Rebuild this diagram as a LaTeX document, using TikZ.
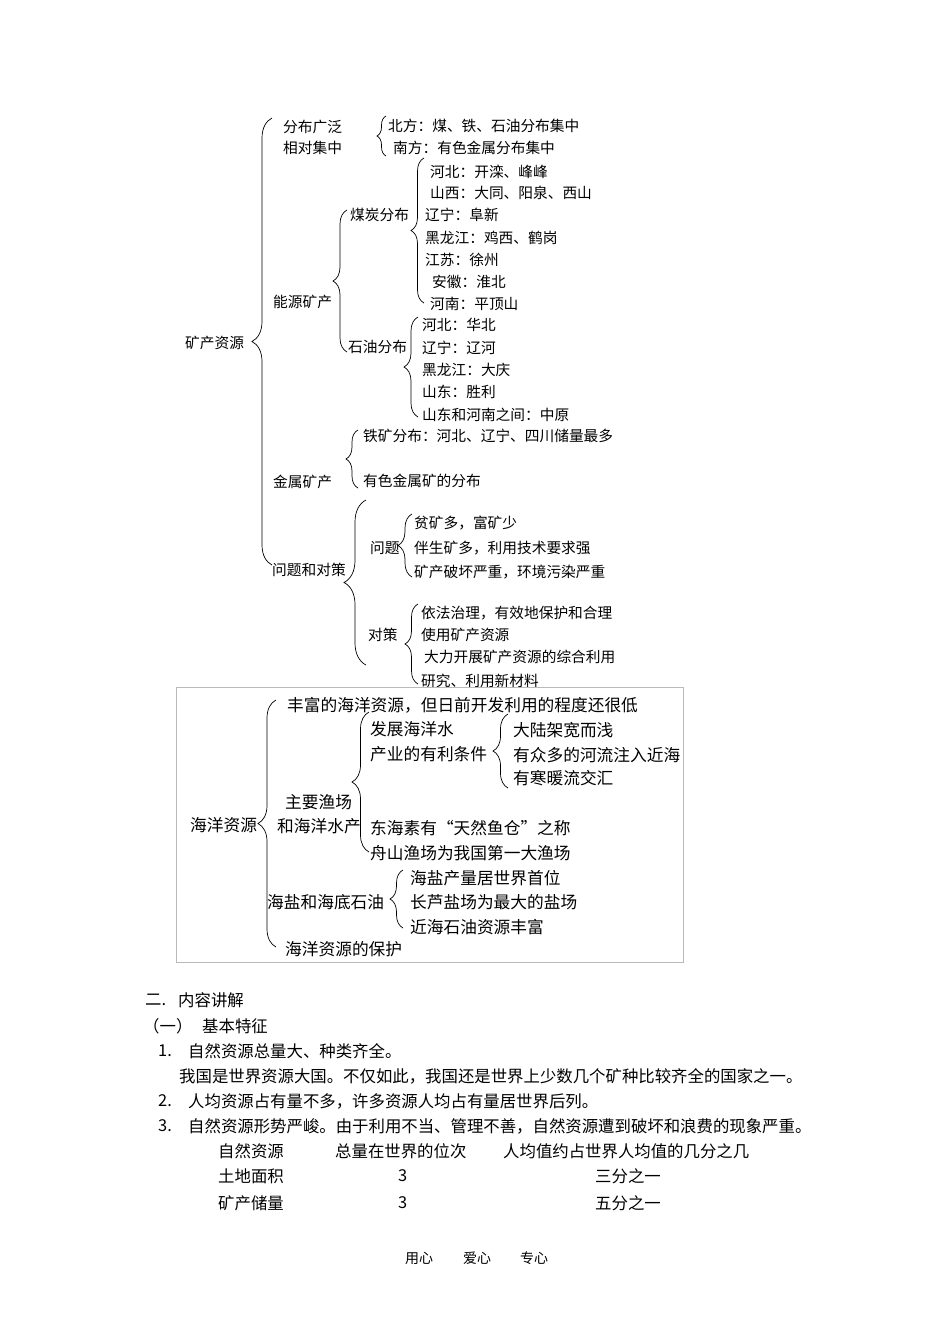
\documentclass[tikz,border=0pt]{standalone}
\usepackage{fontspec}
\setmainfont{Noto Sans CJK SC}
\usepackage{tikz}
\usetikzlibrary{decorations.pathreplacing}
\newcommand{\dsize}{\fontsize{14.7}{16}\selectfont}
\newcommand{\osize}{\fontsize{16.7}{18}\selectfont}
\newcommand{\psize}{\fontsize{16.4}{18}\selectfont}
\newcommand{\fsize}{\fontsize{14}{16}\selectfont}

\begin{document}
\begin{tikzpicture}[x=1pt, y=-1pt,
	dtxt/.style={anchor=west, inner sep=0pt, font=\dsize},
	otxt/.style={anchor=west, inner sep=0pt, font=\osize},
	ptxt/.style={anchor=west, inner sep=0pt, font=\psize},
	ftxt/.style={anchor=west, inner sep=0pt, font=\fsize},
	brc/.style={decorate, decoration={brace, amplitude=#1}, line width=0.7pt}]
			\useasboundingbox (0,0) rectangle (950,1344);
			
			% 矿产资源
			\node[dtxt] (kczy) at (185,343) {矿产资源};
			\node[dtxt] (fbgf) at (283,127) {分布广泛};
			\node[dtxt] (xdjz) at (283,148) {相对集中};
			\node[dtxt] (bf) at (388,126) {北方：煤、铁、石油分布集中};
			\node[dtxt] (nf) at (393,148) {南方：有色金属分布集中};
			\node[dtxt] (nykc) at (273,302) {能源矿产};
			\node[dtxt] (mtfb) at (350,215) {煤炭分布};
			\node[dtxt] (mt1) at (430,172) {河北：开滦、峰峰};
			\node[dtxt] (mt2) at (430,193) {山西：大同、阳泉、西山};
			\node[dtxt] (mt3) at (425,215) {辽宁：阜新};
			\node[dtxt] (mt4) at (425,238) {黑龙江：鸡西、鹤岗};
			\node[dtxt] (mt5) at (425,260) {江苏：徐州};
			\node[dtxt] (mt6) at (432,282) {安徽：淮北};
			\node[dtxt] (mt7) at (430,304) {河南：平顶山};
			\node[dtxt] (syfb) at (348,347) {石油分布};
			\node[dtxt] (sy1) at (422,325) {河北：华北};
			\node[dtxt] (sy2) at (422,348) {辽宁：辽河};
			\node[dtxt] (sy3) at (422,370) {黑龙江：大庆};
			\node[dtxt] (sy4) at (422,392) {山东：胜利};
			\node[dtxt] (sy5) at (422,415) {山东和河南之间：中原};
			\node[dtxt] (jskc) at (273,482) {金属矿产};
			\node[dtxt] (tk) at (363,436) {铁矿分布：河北、辽宁、四川储量最多};
			\node[dtxt] (ys) at (363,481) {有色金属矿的分布};
			\node[dtxt] (wtdc) at (272,570) {问题和对策};
			\node[dtxt] (wt) at (370,548) {问题};
			\node[dtxt] (wt1) at (414,523) {贫矿多，富矿少};
			\node[dtxt] (wt2) at (414,548) {伴生矿多，利用技术要求强};
			\node[dtxt] (wt3) at (414,572) {矿产破坏严重，环境污染严重};
			\node[dtxt] (dc) at (368,635) {对策};
			\node[dtxt] (dc1) at (421,613) {依法治理，有效地保护和合理};
			\node[dtxt] (dc2) at (421,635) {使用矿产资源};
			\node[dtxt] (dc3) at (424,657) {大力开展矿产资源的综合利用};
			\node[dtxt] (dc4) at (421,681) {研究、利用新材料};
			
			% 括号端点
			\coordinate (kz-t) at (272,118);   \coordinate (kz-b) at (272,565);
			\coordinate (fb-t) at (386,116);   \coordinate (fb-b) at (386,156);
			\coordinate (ny-t) at (347,210);   \coordinate (ny-b) at (347,352);
			\coordinate (mt-t) at (424,158);   \coordinate (mt-b) at (424,303);
			\coordinate (sy-t) at (418,317);   \coordinate (sy-b) at (418,417);
			\coordinate (js-t) at (358,430);   \coordinate (js-b) at (358,488);
			\coordinate (wd-t) at (366,500);   \coordinate (wd-b) at (366,665);
			\coordinate (wt-t) at (412,514);   \coordinate (wt-b) at (412,577);
			\coordinate (dc-t) at (418,604);   \coordinate (dc-b) at (418,684);
			
			\draw[brc=20] (kz-b) -- (kz-t);
			\draw[brc=9] (fb-b) -- (fb-t);
			\draw[brc=14] (ny-b) -- (ny-t);
			\draw[brc=13] (mt-b) -- (mt-t);
			\draw[brc=14] (sy-b) -- (sy-t);
			\draw[brc=12] (js-b) -- (js-t);
			\draw[brc=22] (wd-b) -- (wd-t);
			\draw[brc=14] (wt-b) -- (wt-t);
			\draw[brc=13] (dc-b) -- (dc-t);
			
			% 海洋资源（方框）
			\draw[gray!55, line width=0.6pt] (176,687) rectangle (683,962);
			\node[otxt] (hyzy) at (190,825) {海洋资源};
			\node[otxt] (ff) at (287,705) {丰富的海洋资源，但日前开发利用的程度还很低};
			\node[otxt] (zyyc) at (285,802) {主要渔场};
			\node[otxt] (hysc) at (277,826) {和海洋水产};
			\node[otxt] (fz) at (370,729) {发展海洋水};
			\node[otxt] (cy) at (370,754) {产业的有利条件};
			\node[otxt] (tj1) at (513,730) {大陆架宽而浅};
			\node[otxt] (tj2) at (513,755) {有众多的河流注入近海};
			\node[otxt] (tj3) at (513,778) {有寒暖流交汇};
			\node[otxt] (dh) at (370,828) {东海素有“天然鱼仓”之称};
			\node[otxt] (zs) at (370,853) {舟山渔场为我国第一大渔场};
			\node[otxt] (hysy) at (267,902) {海盐和海底石油};
			\node[otxt] (hy1) at (410,878) {海盐产量居世界首位};
			\node[otxt] (hy2) at (410,902) {长芦盐场为最大的盐场};
			\node[otxt] (hy3) at (410,927) {近海石油资源丰富};
			\node[otxt] (bh) at (285,949) {海洋资源的保护};
			
			\coordinate (hy-t) at (276,700);   \coordinate (hy-b) at (276,947);
			\coordinate (yc-t) at (369,712);   \coordinate (yc-b) at (369,852);
			\coordinate (tj-t) at (508,714);   \coordinate (tj-b) at (508,788);
			\coordinate (hs-t) at (403,870);   \coordinate (hs-b) at (403,928);
			
			\draw[brc=18] (hy-b) -- (hy-t);
			\draw[brc=17] (yc-b) -- (yc-t);
			\draw[brc=15] (tj-b) -- (tj-t);
			\draw[brc=13] (hs-b) -- (hs-t);
			
			% 正文
			\node[ptxt] (e2) at (145,1000) {二.};
			\node[ptxt] (nrjj) at (178,1000) {内容讲解};
			\node[ptxt] (y1) at (143,1026) {（一）};
			\node[ptxt] (jbtz) at (202,1026) {基本特征};
			\node[ptxt] (n1) at (158,1051) {1.};
			\node[ptxt] (p1) at (188,1051) {自然资源总量大、种类齐全。};
			\node[ptxt] (p1b) at (179,1076) {我国是世界资源大国。不仅如此，我国还是世界上少数几个矿种比较齐全的国家之一。};
			\node[ptxt] (n2) at (158,1101) {2.};
			\node[ptxt] (p2) at (188,1101) {人均资源占有量不多，许多资源人均占有量居世界后列。};
			\node[ptxt] (n3) at (158,1126) {3.};
			\node[ptxt] (p3) at (188,1126) {自然资源形势严峻。由于利用不当、管理不善，自然资源遭到破坏和浪费的现象严重。};
			
			% 表
			\node[ptxt] (h1) at (218,1151) {自然资源};
			\node[ptxt] (h2) at (335,1151) {总量在世界的位次};
			\node[ptxt] (h3) at (503,1151) {人均值约占世界人均值的几分之几};
			\node[ptxt] (r1a) at (218,1176) {土地面积};
			\node[ptxt] (r1b) at (398,1176) {3};
			\node[ptxt] (r1c) at (595,1176) {三分之一};
			\node[ptxt] (r2a) at (218,1203) {矿产储量};
			\node[ptxt] (r2b) at (398,1203) {3};
			\node[ptxt] (r2c) at (595,1203) {五分之一};
			
			\node[ftxt] (yx) at (405,1258) {用心};
			\node[ftxt] (ax) at (463,1258) {爱心};
			\node[ftxt] (zx) at (520,1258) {专心};
		\end{tikzpicture}
\end{document}
